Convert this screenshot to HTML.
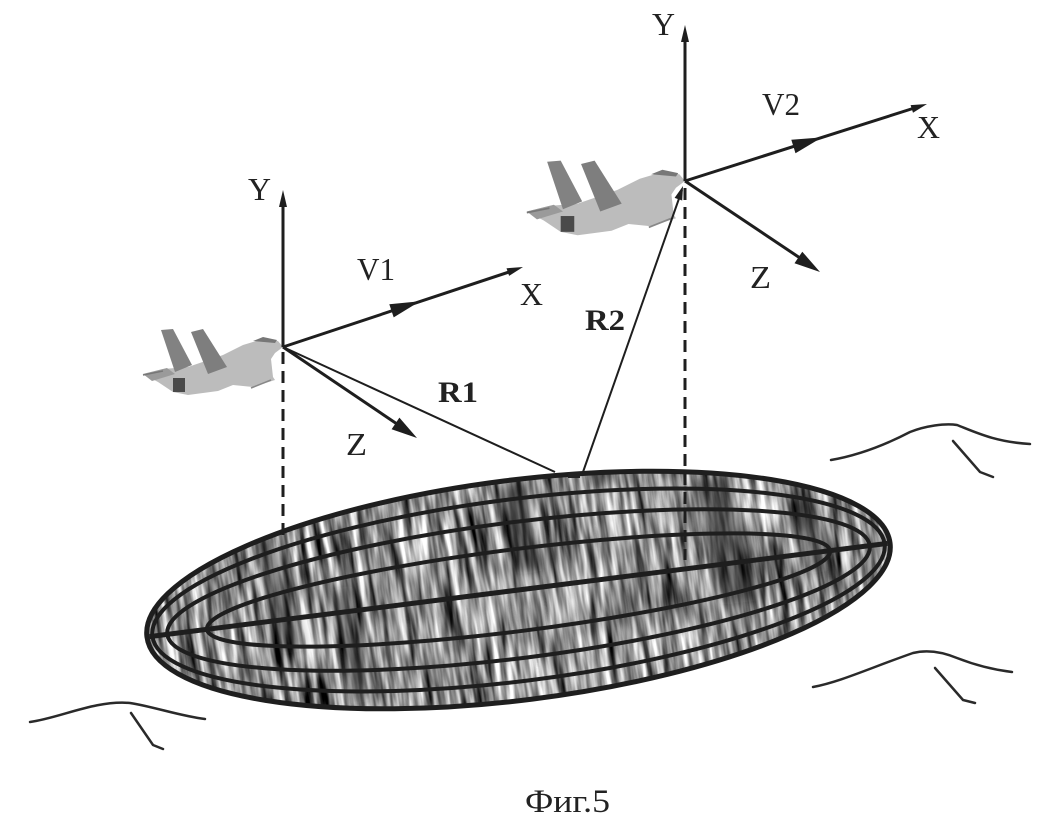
<!DOCTYPE html>
<html><head><meta charset="utf-8"><style>
html,body{margin:0;padding:0;background:#fff;}
svg{display:block;}
text{font-family:"Liberation Serif","Times New Roman",serif;fill:#222;}
</style></head><body>
<svg width="1037" height="822" viewBox="0 0 1037 822" xmlns="http://www.w3.org/2000/svg">
<defs>
  <filter id="tex" x="0" y="0" width="1" height="1" color-interpolation-filters="sRGB">
    <feTurbulence type="fractalNoise" baseFrequency="0.13 0.014" numOctaves="3" seed="7"/>
    <feColorMatrix type="matrix" values="1.7 0 0 0 -0.3  1.7 0 0 0 -0.3  1.7 0 0 0 -0.3  0 0 0 0 1"/>
  </filter>
  <filter id="blur6"><feGaussianBlur stdDeviation="6"/></filter>
  <clipPath id="ellclip">
    <ellipse cx="0" cy="0" rx="374.5" ry="110" transform="translate(518.5,590) rotate(-7.2)"/>
  </clipPath>
  <g id="plane">
    <polygon points="-140,27 -120,22 -95,20 -60,8 -40,-2 -20,-8 -5,-6 0,0 -8,6 -12,12 -10,30 -8,33 -30,40 -50,38 -65,44 -95,48 -110,45 -125,35" fill="#bcbcbc"/>
    <polygon points="-140,27 -116,21 -108,27 -131,34" fill="#9a9a9a"/>
    <polygon points="-30,-6 -20,-10 -6,-7 -8,-4" fill="#777"/>
    <polygon points="-122,-17 -110,-18 -91,18 -108,25" fill="#828282"/>
    <polygon points="-92,-15 -80,-18 -56,20 -75,27" fill="#7e7e7e"/>
    <rect x="-110" y="31" width="12" height="14" fill="#4a4a4a"/>
    <line x1="-12" y1="33" x2="-32" y2="41" stroke="#888" stroke-width="1.5"/>
    <line x1="-140" y1="28" x2="-120" y2="24" stroke="#777" stroke-width="1.5"/>
  </g>
</defs>

<g clip-path="url(#ellclip)">
  <rect x="130" y="460" width="780" height="270" fill="#999"/>
  <g transform="rotate(-8 518 590)">
    <rect x="100" y="400" width="840" height="380" filter="url(#tex)"/>
  </g>
  <g opacity="0.5" filter="url(#blur6)" fill="#111">
    <polygon points="252,540 275,535 305,650 282,655"/>
    <polygon points="330,590 352,585 372,700 350,705"/>
    <polygon points="495,485 525,480 545,570 518,575"/>
    <polygon points="690,478 730,474 760,600 722,605"/>
    <polygon points="790,500 810,498 830,570 808,575"/>
  </g>
</g>

<g transform="translate(518.5,590) rotate(-7.2)" fill="none" stroke="#1e1e1e">
  <ellipse cx="0" cy="0" rx="369" ry="91" stroke-width="4"/>
  <ellipse cx="0" cy="0" rx="354" ry="68" stroke-width="4"/>
  <ellipse cx="0" cy="0" rx="314" ry="41" stroke-width="4"/>
  <line x1="-372" y1="0" x2="372" y2="0" stroke-width="5"/>
  <ellipse cx="0" cy="0" rx="374.5" ry="110" stroke-width="5"/>
</g>

<g fill="none" stroke="#2a2a2a" stroke-width="2.5" stroke-linecap="round">
  <path d="M831,460 C860,455 885,445 910,432 C925,426 945,423 957,425 C975,432 995,442 1030,444"/>
  <path d="M953,441 L980,472 L993,477"/>
  <path d="M813,687 C840,682 870,668 913,653 C925,650 940,651 957,658 C975,665 995,670 1012,672"/>
  <path d="M935,668 L963,700 L975,703"/>
  <path d="M30,722 C60,718 95,700 130,703 C155,707 180,716 205,719"/>
  <path d="M131,713 L153,745 L163,749"/>
</g>

<g stroke="#1e1e1e" stroke-width="3" stroke-dasharray="12 7" fill="none">
  <line x1="283" y1="352" x2="283" y2="536"/>
  <line x1="685" y1="188" x2="685" y2="560"/>
</g>

<use href="#plane" transform="translate(283,347)"/>
<use href="#plane" transform="translate(685,181) scale(1.13)"/>

<g stroke="#1e1e1e" stroke-width="2" fill="none">
  <line x1="283" y1="347" x2="555" y2="472"/>
  <line x1="583" y1="472" x2="682" y2="190"/>
</g>
<polygon points="683,186 682.2,200.5 674.6,197.9" fill="#1e1e1e"/>
<rect x="568" y="472" width="12" height="6" fill="#222"/>

<g stroke="#1e1e1e" stroke-width="3" fill="none">
  <line x1="283" y1="347" x2="283" y2="200"/>
  <line x1="283" y1="347" x2="512" y2="271"/>
  <line x1="283" y1="347" x2="400" y2="426"/>
</g>
<g fill="#1e1e1e">
  <polygon points="283,190 279,207 287,207"/>
  <polygon points="523,267 509.1,275.9 506.5,268.3"/>
  <polygon points="420,301.3 393.7,317.4 389.3,304.2"/>
  <polygon points="417,438 391.6,429.2 399.4,417.6"/>
</g>

<g stroke="#1e1e1e" stroke-width="3" fill="none">
  <line x1="685" y1="181" x2="685" y2="36"/>
  <line x1="685" y1="181" x2="916" y2="107.5"/>
  <line x1="685" y1="181" x2="803" y2="260"/>
</g>
<g fill="#1e1e1e">
  <polygon points="685,25 681,42 689,42"/>
  <polygon points="927,104 913.0,112.7 910.6,105.1"/>
  <polygon points="822,137.4 795.5,153.2 791.3,139.8"/>
  <polygon points="820,272 794.5,263.3 802.3,251.7"/>
</g>

<g font-size="32" font-family="Liberation Serif, Times New Roman, serif">
  <text x="248" y="200" textLength="23" lengthAdjust="spacingAndGlyphs">Y</text>
  <text x="357" y="280" textLength="38" lengthAdjust="spacingAndGlyphs">V1</text>
  <text x="520" y="305" textLength="23" lengthAdjust="spacingAndGlyphs">X</text>
  <text x="346" y="455" textLength="21" lengthAdjust="spacingAndGlyphs">Z</text>
  <text x="652" y="35" textLength="23" lengthAdjust="spacingAndGlyphs">Y</text>
  <text x="762" y="115" textLength="38" lengthAdjust="spacingAndGlyphs">V2</text>
  <text x="917" y="138" textLength="23" lengthAdjust="spacingAndGlyphs">X</text>
  <text x="750" y="288" textLength="21" lengthAdjust="spacingAndGlyphs">Z</text>
</g>
<g font-size="30" font-weight="bold" font-family="Liberation Serif, Times New Roman, serif">
  <text x="438" y="402" textLength="40" lengthAdjust="spacingAndGlyphs">R1</text>
  <text x="585" y="330" textLength="40" lengthAdjust="spacingAndGlyphs">R2</text>
</g>
<text x="525" y="812" font-size="33" font-family="Liberation Serif, Times New Roman, serif" textLength="85" lengthAdjust="spacingAndGlyphs">Фиг.5</text>
</svg>
</body></html>
